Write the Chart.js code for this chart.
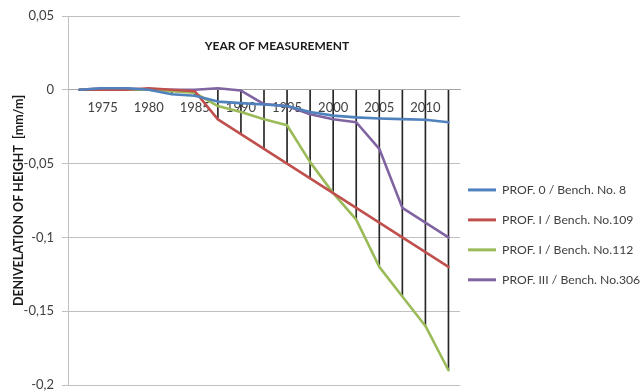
<!DOCTYPE html>
<html>
<head>
<meta charset="utf-8">
<script src="https://cdn.jsdelivr.net/npm/chart.js@4/dist/chart.umd.min.js"></script>
<style>
  html, body { margin: 0; padding: 0; background: #ffffff; }
  #wrap { width: 642px; height: 391px; }
</style>
</head>
<body>
<div id="wrap"><canvas id="c" width="642" height="391"></canvas></div>
<script>
// ---- data ----
const categories = ['', '1975', '', '1980', '', '1985', '', '1990', '', '1995', '', '2000', '', '2005', '', '2010', ''];
const prof0_bench8   = [0, 0.001, 0.001, 0, -0.003, -0.004, -0.008, -0.009, -0.010, -0.011, -0.015, -0.0175, -0.0187, -0.0194, -0.0199, -0.0203, -0.022];
const prof1_bench109 = [0, 0, 0, 0.001, 0, -0.001, -0.02, -0.03, -0.04, -0.05, -0.06, -0.07, -0.08, -0.09, -0.10, -0.11, -0.12];
const prof1_bench112 = [0, 0, 0, 0, -0.001, -0.002, -0.011, -0.015, -0.02, -0.024, -0.049, -0.07, -0.088, -0.12, -0.14, -0.16, -0.19];
const prof3_bench306 = [0, 0.001, 0.001, 0, 0, 0, 0.001, -0.0005, -0.0097, -0.011, -0.0165, -0.02, -0.022, -0.04, -0.08, -0.09, -0.10];
const seriesNames = ['PROF. 0 / Bench. No. 8', 'PROF. I / Bench. No.109', 'PROF. I / Bench. No.112', 'PROF. III / Bench. No.306'];
const yTickLabels = ['-0,2', '-0,15', '-0,1', '-0,05', '0', '0,05'];
const xTitle = 'YEAR OF MEASUREMENT';
const yTitle = 'DENIVELATION OF HEIGHT  [mm/m]';

// drop lines: from the axis (0) down to the lowest value of each category
const allSeries = [prof0_bench8, prof1_bench109, prof1_bench112, prof3_bench306];
const dropLines = categories.map((_, i) => [0, Math.min(...allSeries.map(s => s[i]))]);

const colors = ['#4F81BD', '#C0504D', '#9BBB59', '#8064A2'];
const FONT = 'Lato';
const LEFT_SHIFT = 86; // widens the layout budget so the legend box can be 182px wide

function lineDs(label, data, color) {
  return {
    type: 'line', label, data,
    borderColor: color, backgroundColor: color,
    borderWidth: 2.6, pointRadius: 0, tension: 0,
    borderJoinStyle: 'round', borderCapStyle: 'round',
    order: 1
  };
}

const titlePlugin = {
  id: 'xTitleTop',
  afterDraw(chart) {
    const ctx = chart.ctx;
    ctx.save();
    ctx.font = 'bold 12px ' + FONT;
    ctx.fillStyle = '#1a1a1a';
    ctx.textAlign = 'center';
    ctx.textBaseline = 'middle';
    ctx.fillText(xTitle, 277, 46);
    ctx.restore();
  }
};

new Chart(document.getElementById('c'), {
  type: 'line',
  data: {
    labels: categories,
    datasets: [
      lineDs(seriesNames[0], prof0_bench8, colors[0]),
      lineDs(seriesNames[1], prof1_bench109, colors[1]),
      lineDs(seriesNames[2], prof1_bench112, colors[2]),
      lineDs(seriesNames[3], prof3_bench306, colors[3]),
      {
        type: 'bar', label: 'drop', data: dropLines,
        backgroundColor: '#262626', borderWidth: 0,
        barThickness: 1, order: 10
      }
    ]
  },
  options: {
    responsive: false,
    animation: false,
    layout: { padding: { top: 16, bottom: 6, left: -LEFT_SHIFT, right: 0 } },
    plugins: {
      tooltip: { enabled: false },
      legend: {
        position: 'right',
        fullSize: false,
        align: 'center',
        title: { display: true, text: '', font: { size: 10, lineHeight: 1 }, padding: { top: 68.5, bottom: 0 } },
        labels: {
          font: { family: FONT, size: 12.2, lineHeight: 1.8 },
          color: '#404040',
          boxWidth: 28,
          boxHeight: 3,
          padding: 8,
          filter: (item) => item.datasetIndex < 4,
          generateLabels: (chart) => Chart.defaults.plugins.legend.labels.generateLabels(chart)
            .map(l => Object.assign({}, l, { text: [l.text], lineWidth: 0, fillStyle: l.strokeStyle }))
        }
      }
    },
    scales: {
      x: {
        type: 'category',
        offset: true,
        position: { y: 0 },
        grid: { display: false, tickLength: 8 },
        border: { display: true, color: '#a6a6a6', width: 1 },
        ticks: {
          autoSkip: false, maxRotation: 0, minRotation: 0,
          font: { family: FONT, size: 13 }, color: '#404040', padding: 2
        }
      },
      y: {
        type: 'linear',
        min: -0.2, max: 0.05,
        afterFit: (scale) => { scale.width = 68 + LEFT_SHIFT; scale.paddingTop = 0; scale.paddingBottom = 0; },
        grid: { color: '#c0c0c0', tickLength: 6, lineWidth: 1 },
        border: { display: true, color: '#c0c0c0' },
        ticks: {
          stepSize: 0.05,
          font: { family: FONT, size: 13, lineHeight: 1 },
          color: '#404040', padding: 8,
          callback: (v, i) => yTickLabels[i]
        },
        title: {
          display: true, text: yTitle,
          font: { family: FONT, size: 12.5, weight: 'bold', lineHeight: 1.2 },
          color: '#1a1a1a',
          padding: { top: 11 + LEFT_SHIFT, bottom: 0 }
        }
      }
    }
  },
  plugins: [titlePlugin]
});
</script>
</body>
</html>
